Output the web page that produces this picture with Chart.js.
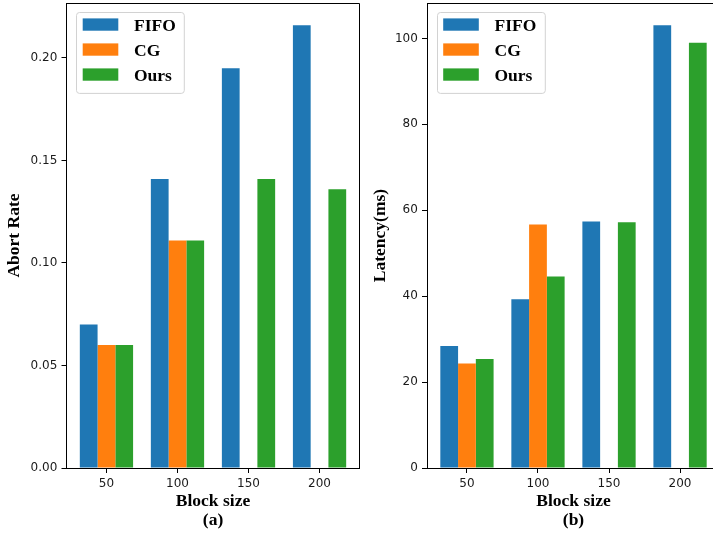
<!DOCTYPE html>
<html><head><meta charset="utf-8">
<script src="https://cdn.jsdelivr.net/npm/chart.js@4"></script>
<style>
html,body{margin:0;padding:0;background:#fff;overflow:hidden;width:713px;height:534px;}
canvas{position:absolute;top:0;}
#c1{left:0}
#c2{left:361px}
</style></head><body>
<canvas id="c1" width="361" height="534"></canvas>
<canvas id="c2" width="361" height="534"></canvas>
<script>
// ---- data ----
const categories = ['50', '100', '150', '200'];
const seriesNames = ['FIFO', 'CG', 'Ours'];
const seriesColors = ['#1f77b4', '#ff7f0e', '#2ca02c'];

const abortFIFO = [0.070, 0.141, 0.195, 0.216];
const abortCG   = [0.060, 0.111, null, null];
const abortOurs = [0.060, 0.111, 0.141, 0.136];

const latencyFIFO = [28.4, 39.3, 57.4, 103.1];
const latencyCG   = [24.3, 56.7, null, null];
const latencyOurs = [25.4, 44.6, 57.2, 99.0];

const abortTicks = [0, 0.05, 0.10, 0.15, 0.20];
const latencyTicks = [0, 20, 40, 60, 80, 100];

// ---- styling ----
const SERIF = "'Liberation Serif', 'Times New Roman', serif";
const SANS = "'DejaVu Sans', sans-serif";

const boxLegend = {
  id: 'boxLegend',
  afterDatasetsDraw(chart) {
    const {ctx, chartArea} = chart;
    const ds = chart.data.datasets;
    const fs = 17.5;
    ctx.save();
    ctx.font = `bold ${fs}px ${SERIF}`;
    const maxW = Math.max(...ds.map(d => ctx.measureText(d.label).width));
    const x0 = chartArea.left + 9.5, y0 = chartArea.top + 8.8;
    const patchX = x0 + 6.7, patchW = 35.6, patchH = 12.3, rowGap = 25;
    const textX = patchX + patchW + 15.7;
    const w = textX + maxW + 8 - x0;
    const h = 6.6 + rowGap * (ds.length - 1) + patchH + 12;
    ctx.beginPath();
    if (ctx.roundRect) ctx.roundRect(Math.round(x0) + 0.5, Math.round(y0) + 0.5, w, h, 3);
    else ctx.rect(Math.round(x0) + 0.5, Math.round(y0) + 0.5, w, h);
    ctx.fillStyle = 'rgba(255,255,255,0.8)';
    ctx.fill();
    ctx.strokeStyle = '#d2d2d2';
    ctx.lineWidth = 1;
    ctx.stroke();
    ds.forEach((d, i) => {
      const py = y0 + 6.6 + i * rowGap;
      ctx.fillStyle = d.backgroundColor;
      ctx.fillRect(patchX, py, patchW, patchH);
      ctx.fillStyle = '#000';
      ctx.textBaseline = 'alphabetic';
      ctx.textAlign = 'left';
      ctx.fillText(d.label, textX, py + patchH);
    });
    ctx.restore();
  }
};

const frame = {
  id: 'frame',
  afterDraw(chart) {
    const {ctx, chartArea: a} = chart;
    ctx.save();
    ctx.strokeStyle = '#000';
    ctx.lineWidth = 1;
    const t = Math.round(a.top) + 0.5, r = Math.round(a.right) - 0.5;
    ctx.beginPath();
    ctx.moveTo(a.left, t); ctx.lineTo(r, t); ctx.lineTo(r, a.bottom);
    ctx.stroke();
    ctx.restore();
  }
};

function makeChart(id, values, yTitle, sub, yTicks, fmt, yAxisWidth, yTitlePad, padRight) {
  const maxVal = Math.max(...values.flat().filter(v => v != null));
  new Chart(document.getElementById(id), {
    type: 'bar',
    data: {
      datasets: values.map((arr, s) => ({
        label: seriesNames[s],
        data: arr.map((v, i) => ({x: i, y: v})),
        backgroundColor: seriesColors[s],
        borderWidth: 0,
        categoryPercentage: 0.75,
        barPercentage: 1.0
      }))
    },
    options: {
      responsive: false,
      animation: false,
      layout: {padding: {top: 3, right: padRight, left: 0, bottom: 0}},
      plugins: {legend: {display: false}, tooltip: {enabled: false}},
      scales: {
        x: {
          type: 'linear',
          offset: false,
          min: -0.5625,
          max: categories.length - 1 + 0.5625,
          afterBuildTicks(scale) { scale.ticks = categories.map((c, i) => ({value: i})); },
          afterFit(scale) { scale.height = 66; scale.paddingLeft = 0; scale.paddingRight = 0; },
          ticks: {
            callback: (v) => categories[v],
            font: {family: SANS, size: 12},
            color: '#1a1a1a',
            padding: 4,
            maxRotation: 0,
            autoSkip: false
          },
          grid: {display: true, offset: false, drawOnChartArea: false, drawTicks: true, tickLength: 5, tickColor: '#000'},
          border: {display: true, color: '#000', width: 1},
          title: {
            display: true,
            text: ['Block size', sub],
            font: {family: SERIF, size: 17.5, weight: 'bold', lineHeight: 1.11},
            color: '#000',
            padding: {top: 0, bottom: 3.5}
          }
        },
        y: {
          type: 'linear',
          min: 0,
          max: maxVal * 1.05,
          afterBuildTicks(scale) { scale.ticks = yTicks.map(v => ({value: v})); },
          afterFit(scale) { scale.width = yAxisWidth; scale.paddingTop = 0; scale.paddingBottom = 0; },
          ticks: {
            callback: fmt,
            font: {family: SANS, size: 12},
            color: '#1a1a1a',
            padding: 4.2
          },
          grid: {display: true, drawOnChartArea: false, drawTicks: true, tickLength: 5, tickColor: '#000'},
          border: {display: true, color: '#000', width: 1},
          title: {
            display: true,
            text: yTitle,
            font: {family: SERIF, size: 17.5, weight: 'bold', lineHeight: 1.2},
            color: '#000',
            padding: {top: yTitlePad, bottom: 0}
          }
        }
      }
    },
    plugins: [boxLegend, frame]
  });
}

makeChart('c1', [abortFIFO, abortCG, abortOurs], 'Abort Rate', '(a)', abortTicks,
  v => Number(v).toFixed(2), 66.5, 4.1, 1.5);
makeChart('c2', [latencyFIFO, latencyCG, latencyOurs], 'Latency(ms)', '(b)', latencyTicks,
  v => String(Math.round(v)), 66, 8.6, 2);
</script>
</body></html>
